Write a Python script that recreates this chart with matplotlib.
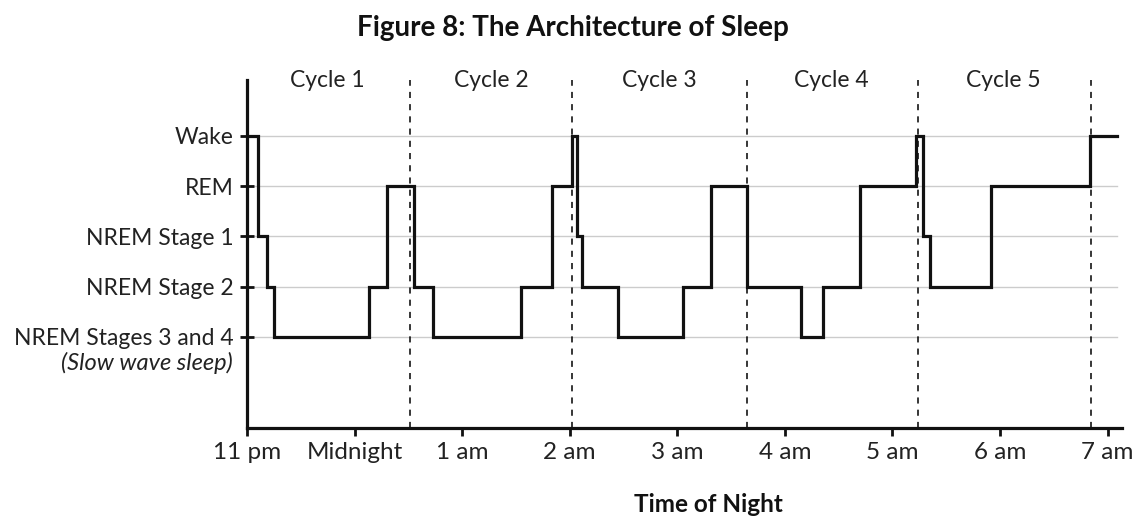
import numpy as np
import matplotlib.pyplot as plt

plt.rcParams['font.family'] = ['Lato', 'DejaVu Sans']

# minutes after 11 pm where each stage begins, and the stage held from there
change_min = [0, 6, 11, 15, 68, 78, 93, 104, 153, 170, 181, 184, 187, 207, 243,
              259, 279, 309, 321, 342, 373, 377, 381, 415, 470, 485]
stage = [5, 3, 2, 1, 2, 4, 2, 1, 2, 4, 5, 3, 2, 1, 2,
         4, 2, 1, 2, 4, 5, 3, 2, 4, 5, 5]

stage_levels = [5, 4, 3, 2, 1]
stage_labels = ['Wake', 'REM', 'NREM Stage 1', 'NREM Stage 2', 'NREM Stages 3 and 4']

cycle_bounds = [91, 181, 279, 374, 471]
cycle_names = ['Cycle 1', 'Cycle 2', 'Cycle 3', 'Cycle 4', 'Cycle 5']
cycle_centers = [45, 136, 230, 326, 422]

hour_ticks = [0, 60, 120, 180, 240, 300, 360, 420, 480]
hour_labels = ['11 pm', 'Midnight', '1 am', '2 am', '3 am', '4 am', '5 am', '6 am', '7 am']

fig = plt.figure(figsize=(11.43, 5.19), dpi=100)
ax = fig.add_axes([0.2161, 0.1753, 0.7655, 0.6705])

ax.set_xlim(0, 488)
ax.set_ylim(-0.81, 6.11)

for lv in stage_levels:
    ax.plot([0, 485], [lv, lv], color='#cccccc', lw=1, zorder=1)

for b in cycle_bounds:
    ax.axvline(b, color='black', lw=1.1, ls=(0, (4, 4)), zorder=2)

ax.step(change_min, stage, where='post', color='#111111', lw=2.3, zorder=3,
        solid_joinstyle='miter')

for name, c in zip(cycle_names, cycle_centers):
    ax.text(c, 6.11, name, ha='center', va='center', fontsize=16.5, color='#222222')

for s in ['top', 'right']:
    ax.spines[s].set_visible(False)
for s in ['left', 'bottom']:
    ax.spines[s].set_linewidth(2.3)
    ax.spines[s].set_color('#111111')

ax.set_yticks(stage_levels)
ax.set_yticklabels(stage_labels, fontsize=16.5, color='#222222')
ax.tick_params(axis='y', direction='inout', length=10, width=2, pad=4.5, color='#111111')
ax.text(-0.016, 0.187, '(Slow wave sleep)', transform=ax.transAxes,
        ha='right', va='center', fontsize=17, style='italic', color='#222222')

ax.set_xticks(hour_ticks)
ax.set_xticklabels(hour_labels, fontsize=17.5, color='#222222')
ax.tick_params(axis='x', direction='out', length=6, width=2, pad=4, color='#111111')

fig.text(0.62, 0.028, 'Time of Night', ha='center', va='center', fontsize=17.5,
         fontweight='bold', color='#111111')
fig.suptitle('Figure 8: The Architecture of Sleep', fontsize=20, fontweight='bold',
             y=0.947, x=0.501, va='center', color='#111111')

fig.savefig('out.png', dpi=100)
